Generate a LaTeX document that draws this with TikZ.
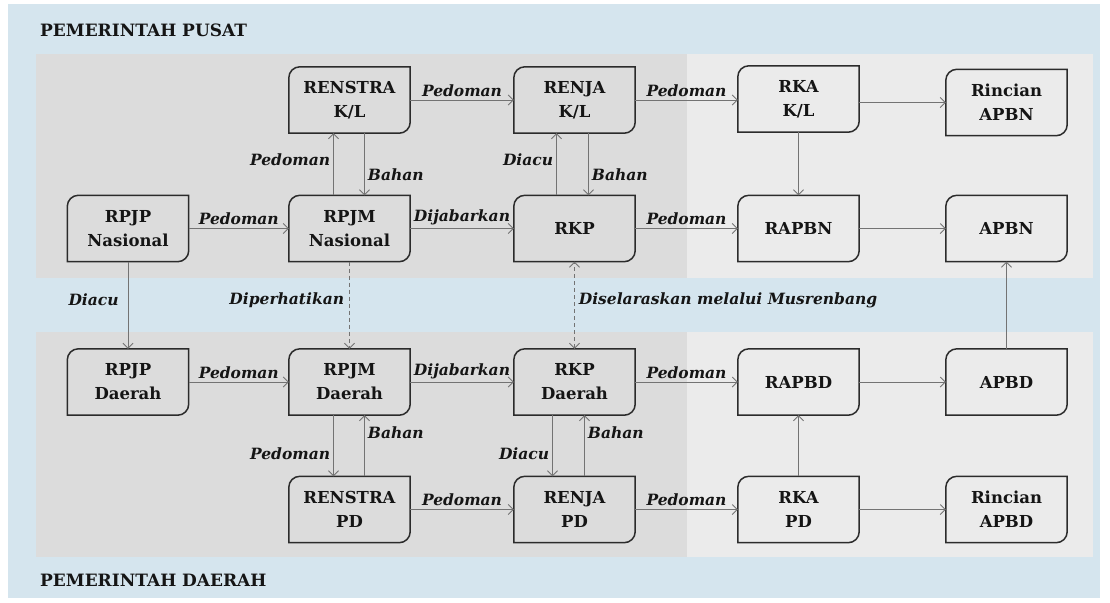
\documentclass[tikz,border=0pt]{standalone}
\usepackage{fontspec}
\setmainfont{DejaVu Serif}
\usetikzlibrary{arrows.meta}
\definecolor{bgblue}{HTML}{D5E5EE}
\definecolor{paneldark}{HTML}{DCDCDC}
\definecolor{panellight}{HTML}{EBEBEB}
\definecolor{arrgray}{HTML}{737373}
\definecolor{boxline}{HTML}{2B2B2B}
\definecolor{txt}{HTML}{151515}
\tikzset{
  box/.style={minimum width=121pt, minimum height=66pt, inner sep=0pt, align=center,
    font=\fontsize{16.5}{24}\selectfont\bfseries, text=txt},
  boxborder/.style={draw=boxline, line width=1.5pt},
  arr/.style={draw=arrgray, line width=0.8pt, -{Straight Barb[length=5pt,width=10pt]}},
  darr/.style={arr, dashed, dash pattern=on 4pt off 3pt},
  bdarr/.style={draw=arrgray, line width=0.8pt, dashed, dash pattern=on 4pt off 3pt,
    {Straight Barb[length=5pt,width=10pt]}-{Straight Barb[length=5pt,width=10pt]}},
  lbl/.style={font=\fontsize{15.5}{18}\selectfont\bfseries\itshape, text=txt, inner sep=1pt},
  head/.style={font=\fontsize{17}{20}\selectfont\bfseries, text=txt, anchor=west, inner sep=0pt}
}
\begin{document}
\begin{tikzpicture}[x=1pt,y=-1pt]
\useasboundingbox (0,0) rectangle (1110,602);
\fill[white] (0,0) rectangle (1110,602);
\fill[bgblue] (8,4) rectangle (1100,598);
\fill[paneldark] (36,54) rectangle (687,278);
\fill[panellight] (687,54) rectangle (1093,278);
\fill[paneldark] (36,332) rectangle (687,557);
\fill[panellight] (687,332) rectangle (1093,557);

\node[head] (hpusat) at (40,30) {PEMERINTAH PUSAT};
\node[head] (hdaerah) at (40,580) {PEMERINTAH DAERAH};

% top panel
\node[box] (renstraKL) at (349.5,100) {RENSTRA\\K/L};
\node[box] (renjaKL) at (574.5,100) {RENJA\\K/L};
\node[box] (rkaKL) at (798.5,99) {RKA\\K/L};
\node[box] (rincianN) at (1006.5,102.5) {Rincian\\APBN};
\node[box] (rpjpN) at (128,228.5) {RPJP\\Nasional};
\node[box] (rpjmN) at (349.5,228.5) {RPJM\\Nasional};
\node[box] (rkp) at (574.5,228.5) {RKP};
\node[box] (rapbn) at (798.5,228.5) {RAPBN};
\node[box] (apbn) at (1006.5,228.5) {APBN};
% bottom panel
\node[box] (rpjpD) at (128,382) {RPJP\\Daerah};
\node[box] (rpjmD) at (349.5,382) {RPJM\\Daerah};
\node[box] (rkpD) at (574.5,382) {RKP\\Daerah};
\node[box] (rapbd) at (798.5,382) {RAPBD};
\node[box] (apbd) at (1006.5,382) {APBD};
\node[box] (renstraPD) at (349.5,509.5) {RENSTRA\\PD};
\node[box] (renjaPD) at (574.5,509.5) {RENJA\\PD};
\node[box] (rkaPD) at (798.5,509.5) {RKA\\PD};
\node[box] (rincianD) at (1006.5,509.5) {Rincian\\APBD};

\foreach \n in {renstraKL,renjaKL,rkaKL,rincianN,rpjpN,rpjmN,rkp,rapbn,apbn,
                rpjpD,rpjmD,rkpD,rapbd,apbd,renstraPD,renjaPD,rkaPD,rincianD}{
  \draw[boxborder] (\n.south west) -- ([yshift=-11pt]\n.north west)
    arc[start angle=180, end angle=90, radius=11pt] -- (\n.north east)
    -- ([yshift=11pt]\n.south east) arc[start angle=0, end angle=-90, radius=11pt] -- cycle;
}

% top horizontal
\draw[arr] (renstraKL.east) -- (renjaKL.west) node[lbl, midway, above=2pt] {Pedoman};
\draw[arr] (renjaKL.east) -- (rkaKL.west |- renjaKL.east) node[lbl, midway, above=2pt] {Pedoman};
\draw[arr] (rkaKL.east |- rincianN.west) -- (rincianN.west);
\draw[arr] (rpjpN.east) -- (rpjmN.west) node[lbl, midway, above=2pt] {Pedoman};
\draw[arr] (rpjmN.east) -- (rkp.west) node[lbl, midway, above=2pt] {Dijabarkan};
\draw[arr] (rkp.east) -- (rapbn.west) node[lbl, midway, above=2pt] {Pedoman};
\draw[arr] (rapbn.east) -- (apbn.west);
% top vertical
\draw[arr] ([xshift=-16pt]rpjmN.north) -- ([xshift=-16pt]renstraKL.south) node[lbl, pos=0.57, left=2pt] {Pedoman};
\draw[arr] ([xshift=15pt]renstraKL.south) -- ([xshift=15pt]rpjmN.north) node[lbl, pos=0.67, right=2pt] {Bahan};
\draw[arr] ([xshift=-18pt]rkp.north) -- ([xshift=-18pt]renjaKL.south) node[lbl, pos=0.57, left=2pt] {Diacu};
\draw[arr] ([xshift=14pt]renjaKL.south) -- ([xshift=14pt]rkp.north) node[lbl, pos=0.67, right=2pt] {Bahan};
\draw[arr] (rkaKL.south) -- (rapbn.north);
% between panels
\draw[arr] (rpjpN.south) -- (rpjpD.north) node[lbl, pos=0.44, left=8pt] {Diacu};
\draw[darr] (rpjmN.south) -- (rpjmD.north) node[lbl, pos=0.44, left=4pt] {Diperhatikan};
\draw[bdarr] (rkpD.north) -- (rkp.south) node[lbl, pos=0.56, right=3pt] {Diselaraskan melalui Musrenbang};
\draw[arr] (apbd.north) -- (apbn.south);
% bottom horizontal
\draw[arr] (rpjpD.east) -- (rpjmD.west) node[lbl, midway, above=2pt] {Pedoman};
\draw[arr] (rpjmD.east) -- (rkpD.west) node[lbl, midway, above=2pt] {Dijabarkan};
\draw[arr] (rkpD.east) -- (rapbd.west) node[lbl, midway, above=2pt] {Pedoman};
\draw[arr] (rapbd.east) -- (apbd.west);
\draw[arr] (renstraPD.east) -- (renjaPD.west) node[lbl, midway, above=2pt] {Pedoman};
\draw[arr] (renjaPD.east) -- (rkaPD.west) node[lbl, midway, above=2pt] {Pedoman};
\draw[arr] (rkaPD.east) -- (rincianD.west);
% bottom vertical
\draw[arr] ([xshift=-16pt]rpjmD.south) -- ([xshift=-16pt]renstraPD.north) node[lbl, pos=0.63, left=2pt] {Pedoman};
\draw[arr] ([xshift=15pt]renstraPD.north) -- ([xshift=15pt]rpjmD.south) node[lbl, pos=0.71, right=2pt] {Bahan};
\draw[arr] ([xshift=-22pt]rkpD.south) -- ([xshift=-22pt]renjaPD.north) node[lbl, pos=0.63, left=2pt] {Diacu};
\draw[arr] ([xshift=10pt]renjaPD.north) -- ([xshift=10pt]rkpD.south) node[lbl, pos=0.71, right=2pt] {Bahan};
\draw[arr] (rkaPD.north) -- (rapbd.south);
\end{tikzpicture}
\end{document}
